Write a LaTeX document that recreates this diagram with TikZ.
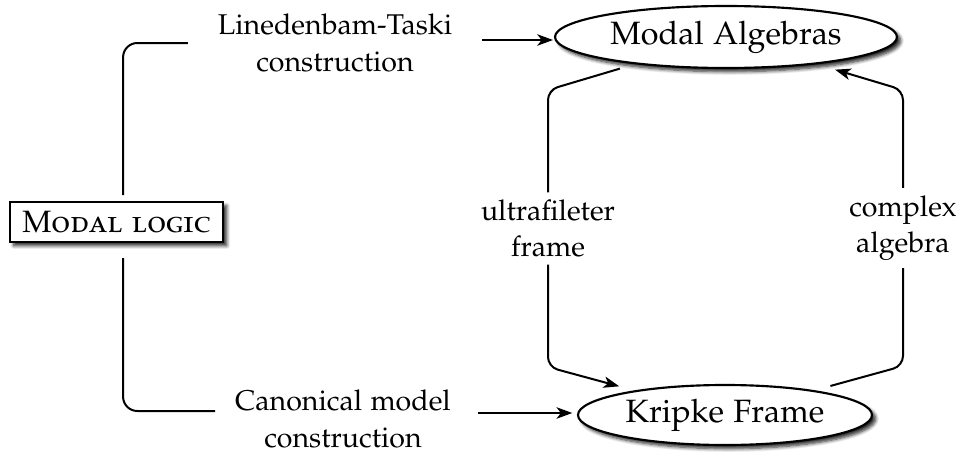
\documentclass[tikz,border=0pt]{standalone}
\usepackage[T1]{fontenc}
\usepackage[sc]{mathpazo}
\usetikzlibrary{shapes.geometric,arrows.meta,shadows.blur}

\begin{document}
\begin{tikzpicture}[x=0.35pt,y=-0.35pt,
  every node/.style={inner sep=0pt, outer sep=0pt},
  lbl/.style={align=center, font=\fontsize{10}{12.8}\selectfont},
  onlbl/.style={lbl, fill=white, inner sep=2.5pt},
  softshadow/.style={blur shadow={shadow xshift=1.3pt, shadow yshift=-1.3pt,
    shadow blur steps=6, shadow blur radius=1.2pt, shadow opacity=85}},
  ell/.style={ellipse, draw, line width=0.75pt, fill=white, softshadow,
    font=\fontsize{11.3}{13}\selectfont},
  boxnode/.style={rectangle, draw, line width=0.8pt, fill=white, softshadow,
    font=\fontsize{10.8}{12}\selectfont},
  conn/.style={line width=0.7pt, rounded corners=3.5pt},
  bracket/.style={line width=0.7pt, rounded corners=5pt},
  tip/.style={-{Stealth[length=5.5pt,width=4pt,inset=1.5pt]}}]

\useasboundingbox (0,0) rectangle (963,453);

% the two kinds of semantics
\node[ell, minimum width=119.7pt, minimum height=21.7pt] (ma) at (726,37) {Modal Algebras};
\node[ell, minimum width=102.9pt, minimum height=21pt] (kf) at (725,415) {Kripke Frame};

% the logic itself
\node[boxnode, minimum width=74.55pt, minimum height=14pt] (ml) at (116.5,222) {\textsc{Modal logic}};

% the two constructions
\node[lbl] (lt) at (335,43) {Linedenbam-Taski\\construction};
\node[lbl] (lb) at (343,419) {Canonical model\\construction};

% brackets from the logic to the constructions
\draw[bracket, shorten <=2.45pt, shorten >=10.5pt] ([xshift=2.3pt]ml.north) |- (lt);
\draw[bracket, shorten <=5.6pt, shorten >=7pt] ([xshift=2.3pt]ml.south) |- ([yshift=2.8pt]lb.west);

% constructions yield the structures
\draw[conn, tip, shorten <=10.5pt, shorten >=0.7pt] ([yshift=1.05pt]lt.east) -- ([yshift=1.05pt]lt.east -| ma.west);
\draw[conn, tip, shorten <=9.45pt, shorten >=2pt] ([yshift=2.1pt]lb.east) -- ([yshift=2.1pt]lb.east -| kf.west);

% duality between algebras and frames
\draw[conn, tip, shorten <=6.3pt, shorten >=6.3pt] (ma) -- (548,90) -- node[onlbl]{ultrafileter\\frame} (548,367) -- (kf);
\draw[conn, tip, shorten <=6.5pt, shorten >=7.5pt] (kf) -- (903,366) -- node[onlbl]{complex\\algebra} (903,90) -- (ma);

\end{tikzpicture}
\end{document}
